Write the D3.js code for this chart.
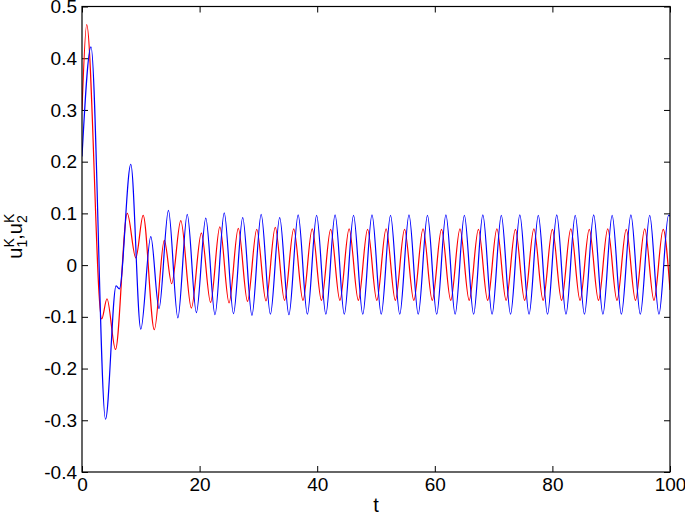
<!DOCTYPE html>
<html>
<head>
<meta charset="utf-8">
<script src="https://cdn.jsdelivr.net/npm/d3@7"></script>
<style>
  body { margin: 0; background: #fff; }
  svg { display: block; font-family: "Liberation Sans", Arial, Helvetica, sans-serif; }
  .axis text { font-size: 19px; fill: #000; }
  .axis line { stroke: #000; }
</style>
</head>
<body>
<svg id="chart"></svg>
<script>
// tick values
const xTicks = [0, 20, 40, 60, 80, 100];
const yTicks = [-0.4, -0.3, -0.2, -0.1, 0, 0.1, 0.2, 0.3, 0.4, 0.5];

// u1^K (red): [t, value] at turning points
const seriesRed = [
  [0, 0.30], [0.8, 0.465], [3.35, -0.104], [4.25, -0.065], [5.7, -0.163],
  [7.7, 0.100], [9.15, 0.014], [10.4, 0.096], [12.3, -0.125], [14.0, 0.048],
  [15.25, -0.036], [16.8, 0.086], [18.6, -0.083], [20.3, 0.062], [21.87, -0.072],
  [23.44, 0.074], [25.01, -0.073], [26.58, 0.071], [28.15, -0.070], [29.72, 0.069],
  [31.29, -0.069], [32.87, 0.073], [34.44, -0.068], [36.01, 0.070], [37.58, -0.068],
  [39.15, 0.070], [40.72, -0.068], [42.29, 0.069], [43.86, -0.068], [45.43, 0.070],
  [47.0, -0.068], [48.57, 0.069], [50.14, -0.068], [51.72, 0.070], [53.29, -0.068],
  [54.86, 0.069], [56.43, -0.068], [58.0, 0.070], [59.57, -0.068], [61.14, 0.069],
  [62.71, -0.068], [64.28, 0.070], [65.85, -0.068], [67.42, 0.069], [68.99, -0.068],
  [70.56, 0.070], [72.13, -0.068], [73.71, 0.069], [75.28, -0.068], [76.85, 0.070],
  [78.42, -0.068], [79.99, 0.069], [81.56, -0.068], [83.13, 0.070], [84.7, -0.068],
  [86.27, 0.069], [87.84, -0.068], [89.41, 0.070], [90.98, -0.068], [92.56, 0.069],
  [94.13, -0.068], [95.7, 0.070], [97.27, -0.068], [98.84, 0.069], [100, -0.048]
];

// u2^K (blue)
const seriesBlue = [
  [0, 0.21], [1.53, 0.422], [4.0, -0.298], [5.8, -0.040], [6.35, -0.046],
  [8.3, 0.195], [10.0, -0.124], [11.7, 0.055], [13.1, -0.084], [14.7, 0.106],
  [16.3, -0.102], [17.9, 0.098], [19.45, -0.092], [21.05, 0.091], [22.62, -0.096],
  [24.19, 0.101], [25.76, -0.094], [27.33, 0.092], [28.9, -0.097], [30.47, 0.098],
  [32.04, -0.095], [33.62, 0.092], [35.19, -0.096], [36.76, 0.097], [38.33, -0.095],
  [39.9, 0.096], [41.47, -0.095], [43.04, 0.097], [44.61, -0.095], [46.18, 0.096],
  [47.75, -0.095], [49.32, 0.097], [50.89, -0.095], [52.47, 0.096], [54.04, -0.095],
  [55.61, 0.097], [57.18, -0.095], [58.75, 0.096], [60.32, -0.095], [61.89, 0.097],
  [63.46, -0.095], [65.03, 0.096], [66.6, -0.095], [68.17, 0.097], [69.74, -0.095],
  [71.31, 0.096], [72.88, -0.095], [74.46, 0.097], [76.03, -0.095], [77.6, 0.096],
  [79.17, -0.095], [80.74, 0.097], [82.31, -0.095], [83.88, 0.096], [85.45, -0.095],
  [87.02, 0.097], [88.59, -0.095], [90.16, 0.096], [91.73, -0.095], [93.35, 0.097],
  [94.95, -0.095], [96.55, 0.096], [98.12, -0.095], [99.75, 0.096], [100, 0.095]
];

const W = 685, H = 515;
const margin = {top: 6.5, right: 15, bottom: 43, left: 82};
const width = W - margin.left - margin.right;
const height = H - margin.top - margin.bottom;

const svg = d3.select("#chart").attr("width", W).attr("height", H);
svg.append("rect").attr("width", W).attr("height", H).attr("fill", "#fff");

const g = svg.append("g").attr("transform", `translate(${margin.left},${margin.top})`);

const x = d3.scaleLinear().domain([0, 100]).range([0, width]);
const y = d3.scaleLinear().domain([-0.4, 0.5]).range([height, 0]);

const fmtY = d => d === 0 ? "0" : d.toFixed(1);
const tickLen = 6;

// bottom / left axes with labels, ticks pointing inward
g.append("g").attr("class", "axis")
    .attr("transform", `translate(0,${height})`)
    .call(d3.axisBottom(x).tickValues(xTicks).tickSizeInner(-tickLen).tickSizeOuter(0).tickPadding(6));
g.append("g").attr("class", "axis")
    .call(d3.axisLeft(y).tickValues(yTicks).tickFormat(fmtY).tickSizeInner(-tickLen).tickSizeOuter(0).tickPadding(5));
// top / right ticks only
g.append("g").attr("class", "axis")
    .call(d3.axisTop(x).tickValues(xTicks).tickFormat("").tickSizeInner(-tickLen).tickSizeOuter(0));
g.append("g").attr("class", "axis")
    .attr("transform", `translate(${width},0)`)
    .call(d3.axisRight(y).tickValues(yTicks).tickFormat("").tickSizeInner(-tickLen).tickSizeOuter(0));
g.selectAll(".axis .domain").remove();

// lines
svg.append("clipPath").attr("id", "plotclip")
  .append("rect").attr("width", width).attr("height", height);

const line = d3.line()
    .x(d => x(d[0]))
    .y(d => y(d[1]))
    .curve(d3.curveMonotoneX);

const plot = g.append("g").attr("clip-path", "url(#plotclip)");
plot.append("path").datum(seriesRed)
    .attr("d", line).attr("fill", "none").attr("stroke", "#ff0000").attr("stroke-width", 1.2);
plot.append("path").datum(seriesBlue)
    .attr("d", line).attr("fill", "none").attr("stroke", "#0000ff").attr("stroke-width", 1.2);

// box
g.append("rect").attr("width", width).attr("height", height)
    .attr("fill", "none").attr("stroke", "#000").attr("stroke-width", 1.2);

// axis labels
svg.append("text")
    .attr("x", margin.left + width / 2).attr("y", 512)
    .attr("text-anchor", "middle").style("font-size", "20px")
    .text("t");

const ylab = svg.append("text")
    .attr("transform", `translate(22,${margin.top + height / 2 - 3}) rotate(-90)`)
    .attr("text-anchor", "middle").style("font-size", "20px");
ylab.append("tspan").text("u");
ylab.append("tspan").attr("dy", -8).style("font-size", "14px").text("K");
ylab.append("tspan").attr("dx", -9.3).attr("dy", 13).style("font-size", "14px").text("1");
ylab.append("tspan").attr("dy", -5).text(",u");
ylab.append("tspan").attr("dy", -8).style("font-size", "14px").text("K");
ylab.append("tspan").attr("dx", -9.3).attr("dy", 13).style("font-size", "14px").text("2");
</script>
</body>
</html>
